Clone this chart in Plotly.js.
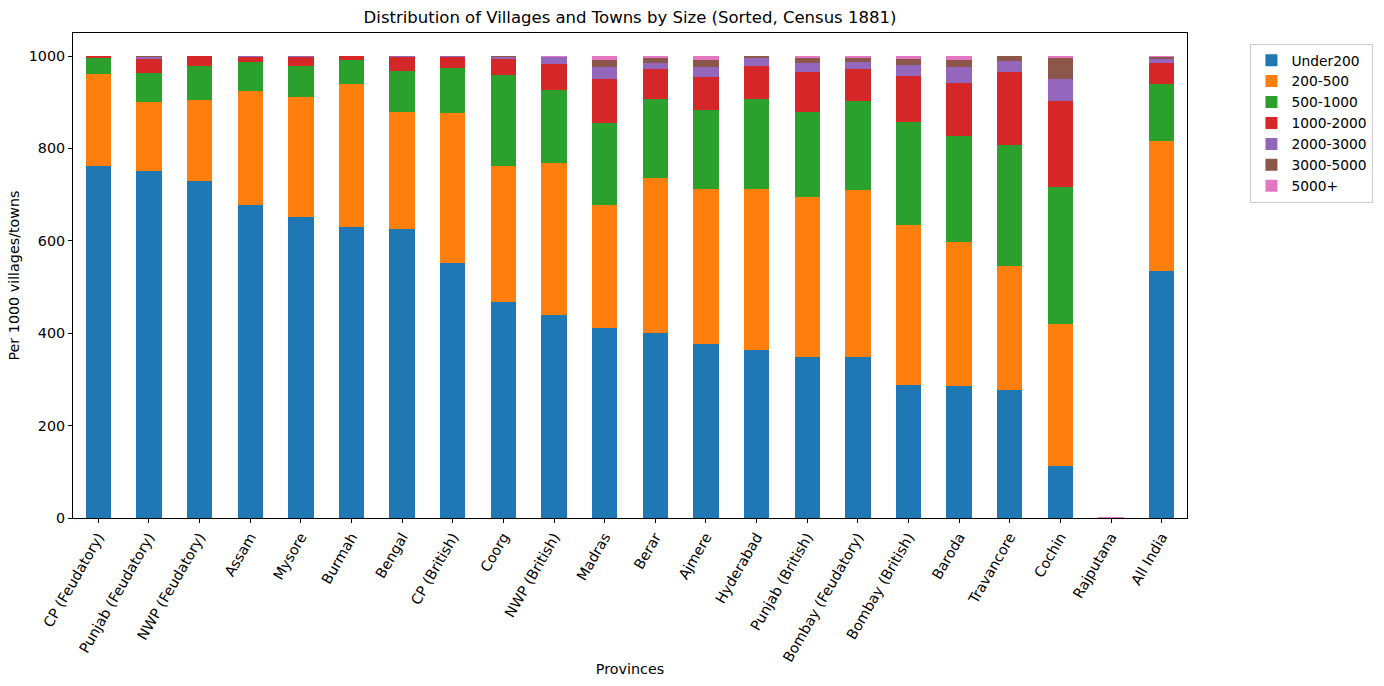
<!DOCTYPE html>
<html>
<head>
<meta charset="utf-8">
<script src="https://cdn.plot.ly/plotly-3.0.1.min.js"></script>
<style>
  html, body { margin: 0; padding: 0; background: #fff; }
  #myGraph { width: 1384px; height: 686px; }
</style>
</head>
<body>
<div id="myGraph"></div>
<script>
// provinces, sorted by the Under200 share
let provinces = [
    'CP (Feudatory)', 'Punjab (Feudatory)', 'NWP (Feudatory)', 'Assam', 'Mysore',
    'Burmah', 'Bengal', 'CP (British)', 'Coorg', 'NWP (British)', 'Madras',
    'Berar', 'Ajmere', 'Hyderabad', 'Punjab (British)', 'Bombay (Feudatory)',
    'Bombay (British)', 'Baroda', 'Travancore', 'Cochin', 'Rajputana', 'All India'
];

// per 1000 villages/towns
let under200 = [762, 751, 730, 678, 652, 630, 626, 553, 467, 439, 411, 400, 377, 363, 348, 348, 289, 286, 277, 113, 0, 535];
let s200_500 = [200, 150, 175, 247, 260, 309, 253, 324, 295, 329, 266, 336, 335, 349, 347, 362, 346, 312, 269, 308, 0, 281];
let s500_1000 = [34, 63, 74, 62, 67, 52, 89, 98, 198, 158, 179, 172, 171, 196, 184, 193, 223, 229, 261, 295, 0, 124];
let s1000_2000 = [4, 29, 21, 12, 18, 9, 29, 23, 33, 57, 94, 64, 72, 71, 86, 69, 99, 115, 158, 187, 1, 46];
let s2000_3000 = [0, 6, 0, 1, 3, 0, 3, 2, 6, 14, 27, 14, 22, 16, 21, 16, 24, 35, 25, 47, 0, 8];
let s3000_5000 = [0, 1, 0, 0, 0, 0, 0, 0, 1, 2, 14, 10, 14, 5, 9, 8, 13, 14, 10, 46, 0, 4];
let s5000plus = [0, 0, 0, 0, 0, 0, 0, 0, 0, 1, 9, 4, 9, 0, 5, 4, 6, 9, 0, 4, 1, 2];

let seriesNames = ['Under200', '200-500', '500-1000', '1000-2000', '2000-3000', '3000-5000', '5000+'];
let seriesValues = [under200, s200_500, s500_1000, s1000_2000, s2000_3000, s3000_5000, s5000plus];
let colors = ['#1f77b4', '#ff7f0e', '#2ca02c', '#d62728', '#9467bd', '#8c564b', '#e377c2'];

let data = seriesNames.map((name, i) => ({
    type: 'bar',
    name: name,
    x: provinces,
    y: seriesValues[i],
    marker: {
        color: colors[i],
        line: { width: 0 }
    },
    hoverinfo: 'x+y+name'
}));

let font = { family: 'DejaVu Sans, sans-serif', size: 14.3, color: '#000' };

let layout = {
    barmode: 'stack',
    bargap: 0.5,
    width: 1384,
    height: 686,
    margin: { l: 73, r: 196, t: 33, b: 168 },
    paper_bgcolor: '#fff',
    plot_bgcolor: '#fff',
    font: font,
    title: {
        text: 'Distribution of Villages and Towns by Size (Sorted, Census 1881)',
        font: { family: 'DejaVu Sans, sans-serif', size: 16.5, color: '#000' },
        x: 0.5,
        xref: 'paper',
        y: 0.975,
        yref: 'container',
        yanchor: 'middle'
    },
    xaxis: {
        type: 'category',
        range: [-0.5, provinces.length - 0.5],
        tickangle: -60,
        ticks: 'outside',
        ticklen: 4,
        tickcolor: '#000',
        showline: true,
        linecolor: '#000',
        linewidth: 1,
        mirror: true,
        showgrid: false,
        zeroline: false,
        tickfont: font,
        title: { text: 'Provinces', font: font, standoff: 0 },
        automargin: false
    },
    yaxis: {
        range: [0, 1050],
        tickvals: [0, 200, 400, 600, 800, 1000],
        ticks: 'outside',
        ticklen: 4,
        tickcolor: '#000',
        showline: true,
        linecolor: '#000',
        linewidth: 1,
        mirror: true,
        showgrid: false,
        zeroline: false,
        tickfont: font,
        title: { text: 'Per 1000 villages/towns', font: font, standoff: 5 },
        automargin: false
    },
    legend: {
        x: 1.056,
        y: 0.978,
        xanchor: 'left',
        yanchor: 'top',
        traceorder: 'normal',
        bordercolor: '#cccccc',
        borderwidth: 1,
        bgcolor: '#fff',
        font: { family: 'DejaVu Sans, sans-serif', size: 13.8, color: '#000' },
        itemwidth: 30,
        tracegroupgap: 0
    },
    showlegend: true
};

Plotly.newPlot('myGraph', data, layout, { displayModeBar: false, staticPlot: true });
</script>
</body>
</html>
